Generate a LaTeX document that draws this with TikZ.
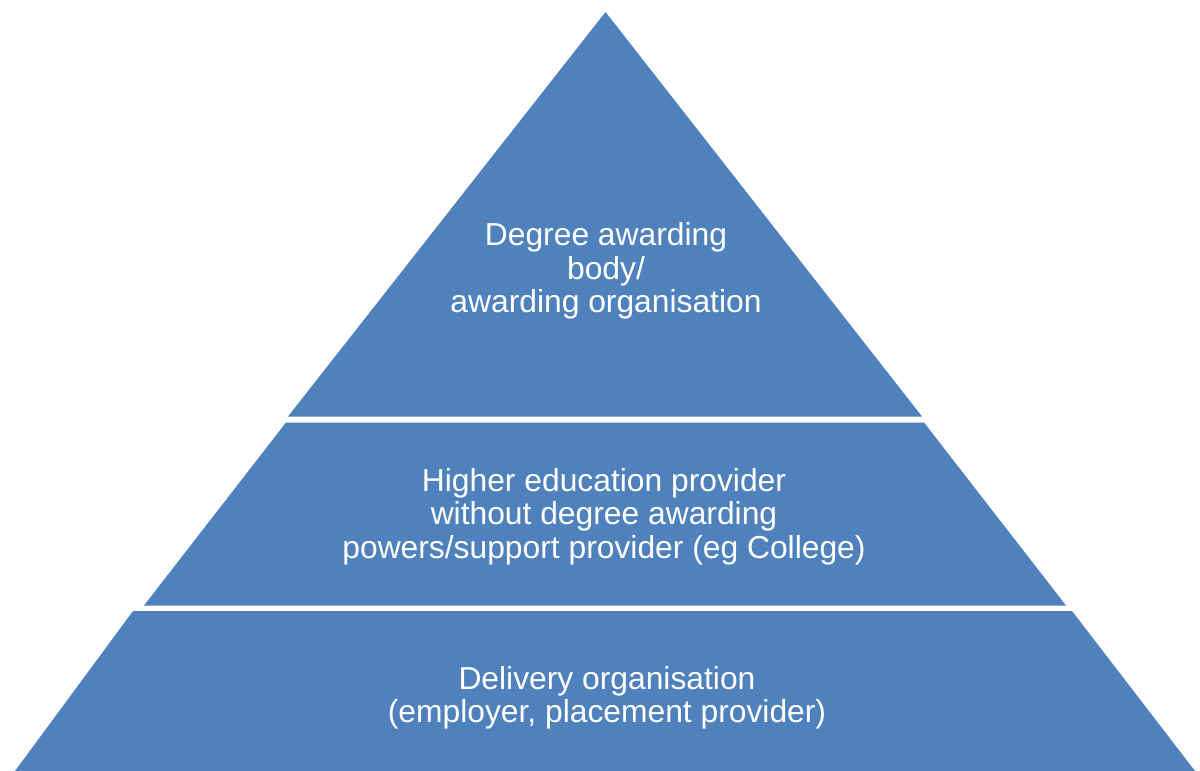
\documentclass[tikz,border=0pt]{standalone}
\usepackage{fontspec}
\setmainfont{Liberation Sans}
\definecolor{tierblue}{HTML}{4F81BD}
\begin{document}
\begin{tikzpicture}[x=0.5pt,y=-0.5pt,
  tier/.style={fill=tierblue,draw=none},
  label/.style={text=white,align=center,font=\fontsize{15.9}{16.7}\selectfont,inner sep=0pt}]
\useasboundingbox (0,0) rectangle (1200,771);
\fill[white] (0,0) rectangle (1200,771);
% tiers
\path[tier] (605.5,12) -- (922,416.5) -- (288,416.5) -- cycle;
\path[tier] (286,422.5) -- (924,422.5) -- (1066,605.5) -- (144,605.5) -- cycle;
\path[tier] (133,611) -- (1072,611) -- (1195,771) -- (15,771) -- cycle;
% labels
\node[label] (top) at (606,271) {Degree awarding\\body/\\awarding organisation};
\node[label] (mid) at (604,516.5) {Higher education provider\\without degree awarding\\powers/support provider (eg College)};
\node[label] (bot) at (607,697.5) {Delivery organisation\\(employer, placement provider)};
\end{tikzpicture}
\end{document}
